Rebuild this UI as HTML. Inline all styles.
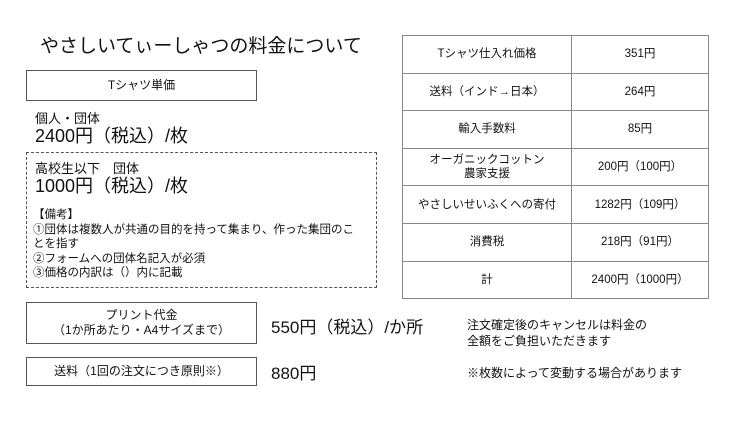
<!DOCTYPE html>
<html><head><meta charset="utf-8"><style>
body{margin:0;width:736px;height:421px;background:#fff;position:relative;overflow:hidden;font-family:"Liberation Sans","Noto Sans CJK JP",sans-serif;color:#111}
.a{position:absolute;white-space:nowrap}
.box{position:absolute;border:1px solid #555;box-sizing:border-box;display:flex;align-items:center;justify-content:center;text-align:center;font-size:12px;line-height:15px}
table{position:absolute;left:402px;top:35px;border-collapse:collapse;font-size:11.5px}
td{border:1px solid #888;height:36.6px;text-align:center;padding:0;line-height:14px}
</style></head><body>
<div class="a" style="left:40px;top:31px;font-size:19px">やさしいてぃーしゃつの料金について</div>
<div class="box" style="left:26px;top:70px;width:231px;height:31px">Tシャツ単価</div>
<div class="a" style="left:35px;top:108px;font-size:13px">個人・団体</div>
<div class="a" style="left:35px;top:122px;font-size:18px">2400円（税込）/枚</div>
<div style="position:absolute;left:26px;top:152px;width:351px;height:136px;border:1px dashed #555;box-sizing:border-box"></div>
<div class="a" style="left:35px;top:158px;font-size:13px">高校生以下　団体</div>
<div class="a" style="left:35px;top:172px;font-size:18px">1000円（税込）/枚</div>
<div class="a" style="left:33px;top:208px;font-size:11.5px;line-height:14.5px">【備考】<br>①団体は複数人が共通の目的を持って集まり、作った集団のこ<br>とを指す<br>②フォームへの団体名記入が必須<br>③価格の内訳は（）内に記載</div>
<table>
<tr><td style="width:168px">Tシャツ仕入れ価格</td><td style="width:136px">351円</td></tr>
<tr><td>送料（インド→日本）</td><td>264円</td></tr>
<tr><td>輸入手数料</td><td>85円</td></tr>
<tr><td>オーガニックコットン<br>農家支援</td><td>200円（100円）</td></tr>
<tr><td>やさしいせいふくへの寄付</td><td>1282円（109円）</td></tr>
<tr><td>消費税</td><td>218円（91円）</td></tr>
<tr><td>計</td><td>2400円（1000円）</td></tr>
</table>
<div class="box" style="left:26px;top:302px;width:231px;height:42px">プリント代金<br>（1か所あたり・A4サイズまで）</div>
<div class="box" style="left:26px;top:357px;width:231px;height:29px">送料（1回の注文につき原則※）</div>
<div class="a" style="left:271px;top:313px;font-size:17px">550円（税込）/か所</div>
<div class="a" style="left:271px;top:359px;font-size:17px">880円</div>
<div class="a" style="left:467px;top:317px;font-size:12px;line-height:16px">注文確定後のキャンセルは料金の<br>全額をご負担いただきます</div>
<div class="a" style="left:467px;top:364px;font-size:12px">※枚数によって変動する場合があります</div>
</body></html>
